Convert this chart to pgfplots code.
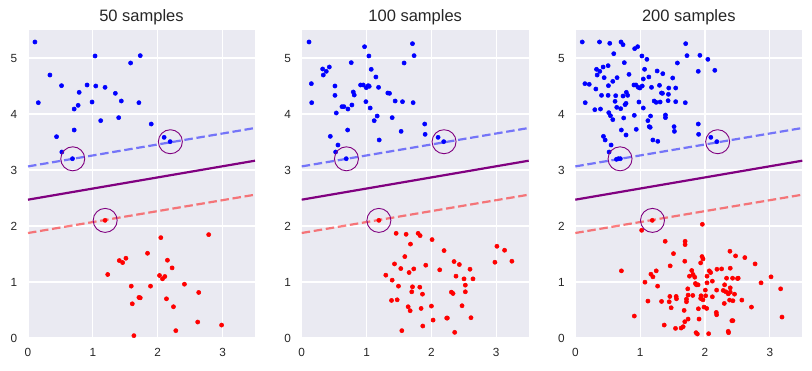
\documentclass[border=0pt]{standalone}
\usepackage{pgfplots}
\pgfplotsset{compat=1.18}
\usepackage{fontspec}
\setmainfont{Liberation Sans}
\definecolor{bgc}{HTML}{EAEAF2}
\definecolor{tc}{HTML}{262626}
\definecolor{mpurple}{HTML}{800080}
\pgfplotsset{
  svmax/.style={
    width=227pt, height=308pt, scale only axis,
    xmin=0, xmax=3.5, ymin=0, ymax=5.5,
    axis background/.style={fill=bgc},
    axis line style={draw=none},
    grid=major, grid style={white, line width=1.2pt},
    xtick={0,1,2,3}, ytick={0,1,2,3,4,5},
    major tick length=0pt, tick style={draw=none},
    /pgf/number format/assume math mode=true,
    ticklabel style={font=\fontsize{11.8}{13}\selectfont, text=tc},
    xticklabel style={inner sep=0pt, anchor=base, yshift=-18.7pt},
    yticklabel style={inner sep=0pt, anchor=east, xshift=-10.5pt},
    title style={font=\fontsize{16.5}{18}\selectfont, text=tc, inner sep=0pt, anchor=base, at={(0.5,1)}, yshift=2pt},
    clip=false,
  },
  bpts/.style={only marks, color=blue, mark=*, mark size=2.1pt, mark options={solid, fill=blue, draw=blue, line width=0.5pt}},
  rpts/.style={only marks, color=red, mark=*, mark size=2.1pt, mark options={solid, fill=red, draw=red, line width=0.5pt}},
  svs/.style={only marks, color=mpurple, mark=o, mark size=12pt, mark options={solid, draw=mpurple, line width=0.9pt, fill=none}},
  dec/.style={mpurple, line width=2.2pt},
  mup/.style={blue, opacity=0.5, line width=2.2pt, dash pattern=on 8.5pt off 3.7pt},
  mdn/.style={red, opacity=0.5, line width=2.2pt, dash pattern=on 8.5pt off 3.7pt},
}
\begin{document}
\begin{tikzpicture}
%%%%%%%%%%%%%%%% 50 samples
\begin{axis}[svmax, at={(0pt,0pt)}, anchor=south west, title={50 samples}]
\addplot[dec] coordinates {(0,2.47) (3.5,3.166)};
\addplot[mup] coordinates {(0,3.064) (3.5,3.75)};
\addplot[mdn] coordinates {(0,1.875) (3.5,2.559)};
\addplot[bpts] coordinates {
(0.107,5.286) (0.159,4.202) (0.338,4.696) (0.517,4.506) (0.440,3.595)
(0.522,3.321) (0.686,3.202) (0.712,3.714) (0.712,4.089) (0.773,4.155)
(0.789,4.387) (0.911,4.518) (0.988,4.214) (1.034,5.036) (1.045,4.500)
(1.121,3.881) (1.188,4.476) (1.347,4.369) (1.398,3.935) (1.439,4.232)
(1.582,4.911) (1.710,4.202) (1.731,5.042) (1.900,3.821) (2.099,3.583)
(2.192,3.506)};
\addplot[rpts] coordinates {
(1.188,2.101) (1.229,1.134) (1.408,1.383) (1.459,1.347) (1.510,1.424)
(1.843,1.513) (2.048,1.792) (2.150,1.389) (2.222,1.252) (2.786,1.846)
(1.592,0.926) (1.889,0.926) (2.028,1.116) (2.110,1.098) (2.074,1.056)
(2.412,0.961) (2.632,0.813) (1.710,0.724) (1.731,0.718) (2.135,0.700)
(1.608,0.611) (2.243,0.558) (2.617,0.285) (2.985,0.231) (2.279,0.131)
(1.633,0.042)};
\addplot[svs] coordinates {(0.69,3.20) (2.195,3.505) (1.19,2.10)};
\end{axis}
%%%%%%%%%%%%%%%% 100 samples
\begin{axis}[svmax, at={(273.7pt,0pt)}, anchor=south west, title={100 samples}]
\addplot[dec] coordinates {(0,2.47) (3.5,3.166)};
\addplot[mup] coordinates {(0,3.064) (3.5,3.75)};
\addplot[mdn] coordinates {(0,1.875) (3.5,2.559)};
\addplot[bpts] coordinates {
(0.113,5.286) (0.149,4.542) (0.154,4.202) (0.323,4.804) (0.333,4.696)
(0.379,4.762) (0.426,4.839) (0.513,4.500) (0.513,4.333) (0.533,4.018)
(0.441,3.601) (0.559,3.446) (0.523,3.321) (0.687,3.202) (0.708,3.714)
(0.621,4.131) (0.651,4.131) (0.713,4.089) (0.774,4.161) (0.764,4.917)
(0.795,4.393) (0.810,4.339) (0.969,5.202) (0.908,4.518) (0.949,4.518)
(0.995,4.470) (1.026,4.506) (1.041,4.494) (1.036,5.036) (1.072,4.798)
(0.990,4.220) (1.056,4.107) (1.144,4.661) (1.185,4.476) (1.164,3.964)
(1.118,3.881) (1.195,3.536) (1.328,4.375) (1.354,4.369) (1.395,3.935)
(1.441,4.232) (1.533,3.690) (1.554,4.220) (1.579,4.911) (1.708,5.256)
(1.733,5.042) (1.718,4.202) (1.897,3.821) (1.903,3.637) (2.103,3.583)
(2.190,3.506)};
\addplot[rpts] coordinates {
(1.190,2.101) (1.456,1.869) (1.610,1.852) (1.795,1.869) (1.826,1.828)
(2.010,1.757) (1.677,1.677) (1.590,1.454) (2.195,1.561) (1.431,1.323)
(1.528,1.240) (1.728,1.234) (1.656,1.169) (1.913,1.300) (2.128,1.217)
(2.349,1.365) (2.431,1.312) (2.595,1.228) (2.379,1.104) (2.503,1.056)
(2.641,1.056) (2.523,0.944) (1.297,1.122) (1.395,1.033) (1.492,0.926)
(1.708,0.914) (1.821,0.908) (1.697,0.825) (1.862,0.783) (2.308,0.819)
(2.333,0.795) (2.523,0.825) (1.385,0.671) (1.472,0.682) (1.641,0.558)
(1.672,0.487) (1.841,0.528) (2.000,0.570) (2.472,0.576) (2.026,0.320)
(2.236,0.356) (2.246,0.356) (2.610,0.362) (1.867,0.214) (1.544,0.131)
(2.359,0.101) (3.010,1.638) (3.128,1.567) (2.979,1.353) (3.241,1.371)};
\addplot[svs] coordinates {(0.69,3.20) (2.195,3.505) (1.19,2.10)};
\end{axis}
%%%%%%%%%%%%%%%% 200 samples
\begin{axis}[svmax, at={(547.3pt,0pt)}, anchor=south west, title={200 samples}]
\addplot[dec] coordinates {(0,2.47) (3.5,3.166)};
\addplot[mup] coordinates {(0,3.064) (3.5,3.75)};
\addplot[mdn] coordinates {(0,1.875) (3.5,2.559)};
\addplot[bpts] coordinates {
(0.107,5.286) (0.373,5.286) (0.531,5.262) (0.705,5.286) (0.736,5.238)
(0.593,5.077) (0.915,5.167) (0.961,5.202) (1.027,5.036) (1.104,4.976)
(0.756,4.917) (0.429,4.839) (0.506,4.863) (0.327,4.798) (0.378,4.762)
(0.337,4.696) (0.445,4.649) (0.828,4.708) (1.068,4.798) (0.644,4.649)
(0.578,4.583) (0.511,4.506) (0.148,4.542) (0.215,4.530) (0.317,4.446)
(0.404,4.333) (0.506,4.333) (0.623,4.327) (0.736,4.321) (0.787,4.387)
(0.807,4.333) (0.613,4.226) (0.767,4.167) (0.782,4.190) (0.639,4.119)
(0.700,4.095) (0.153,4.202) (0.301,4.077) (0.388,4.089) (0.516,4.024)
(0.542,3.970) (0.578,3.899) (0.746,3.929) (0.904,4.518) (0.935,4.518)
(0.971,4.476) (0.996,4.464) (1.032,4.500) (1.048,4.625) (1.134,4.661)
(1.175,4.476) (1.048,4.107) (0.981,4.214) (0.910,3.976) (0.940,3.726)
(1.119,3.881) (1.155,3.762) (1.160,3.964) (1.140,3.774) (1.262,4.768)
(1.349,4.720) (1.298,4.512) (1.329,4.375) (1.344,4.369) (1.216,4.232)
(1.247,4.208) (1.308,4.214) (1.390,3.982) (1.390,3.935) (1.436,4.351)
(1.431,4.238) (1.441,4.464) (1.502,4.643) (1.548,4.464) (1.548,4.220)
(1.574,4.911) (1.702,5.256) (1.722,5.042) (1.696,4.202) (1.523,3.774)
(1.528,3.690) (1.196,3.536) (1.272,3.512) (0.710,3.714) (0.782,3.625)
(0.434,3.601) (0.460,3.536) (0.552,3.446) (0.521,3.321) (0.634,3.190)
(0.664,3.202) (0.695,3.202) (1.921,5.048) (2.044,4.976) (1.896,4.762)
(2.151,4.780) (1.896,3.821) (1.901,3.637) (2.090,3.583) (2.182,3.506)};
\addplot[rpts] coordinates {
(1.187,2.101) (1.023,1.923) (1.959,2.030) (1.386,1.727) (1.693,1.727)
(1.693,1.668) (1.514,1.507) (1.688,1.371) (1.954,1.454) (1.969,1.412)
(1.933,1.341) (2.384,1.549) (2.471,1.466) (2.614,1.436) (2.772,1.323)
(0.711,1.199) (1.166,1.139) (1.197,1.092) (1.248,1.199) (1.463,1.288)
(1.074,0.997) (1.269,0.926) (1.795,1.205) (1.816,1.134) (1.760,1.104)
(1.842,1.086) (2.066,1.199) (2.087,1.169) (2.031,1.104) (2.184,1.228)
(2.256,1.234) (2.389,1.246) (2.332,1.068) (2.425,1.068) (2.501,1.062)
(2.512,1.068) (2.113,1.015) (2.031,0.985) (1.852,0.973) (1.867,0.950)
(1.893,0.950) (1.734,0.878) (2.005,0.855) (2.179,0.855) (2.302,0.950)
(2.281,0.849) (2.389,0.896) (2.358,0.789) (2.455,0.783) (2.322,0.825)
(2.389,0.819) (1.739,0.766) (1.811,0.760) (1.714,0.694) (1.714,0.647)
(1.555,0.742) (1.560,0.700) (1.458,0.742) (1.448,0.647) (1.478,0.540)
(1.330,0.653) (1.120,0.659) (1.939,0.754) (2.010,0.754) (2.113,0.736)
(1.969,0.682) (1.933,0.706) (1.985,0.552) (2.026,0.528) (1.898,0.522)
(2.174,0.457) (2.179,0.415) (2.297,0.617) (2.379,0.677) (2.430,0.665)
(2.568,0.677) (2.716,0.552) (2.864,0.985) (3.018,1.092) (3.166,0.878)
(3.187,0.374) (0.910,0.392) (1.678,0.493) (1.739,0.338) (1.688,0.291)
(1.908,0.338) (1.371,0.231) (1.545,0.172) (1.632,0.178) (1.663,0.202)
(1.862,0.095) (1.882,0.071) (2.056,0.077) (2.358,0.119) (2.363,0.095)
(2.414,0.309) (2.430,0.309)};
\addplot[svs] coordinates {(0.69,3.20) (2.195,3.505) (1.19,2.10)};
\end{axis}
\pgfresetboundingbox
\path[use as bounding box] (-28pt,-32pt) rectangle (784pt,338pt);
\end{tikzpicture}
\end{document}
